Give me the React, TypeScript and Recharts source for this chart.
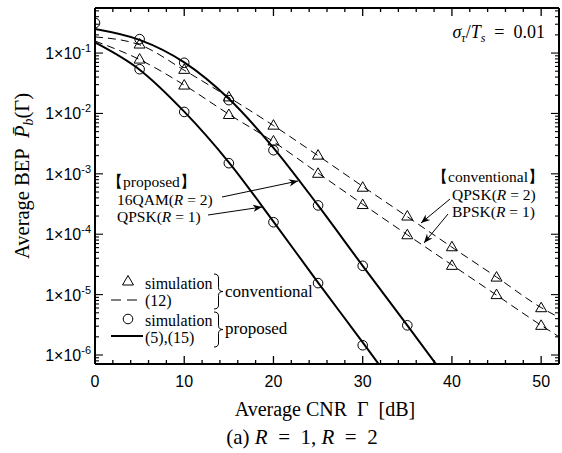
import React from 'react';
import { LineChart, Line, XAxis, YAxis } from 'recharts';

// ---------- data ----------
// conventional scheme, simulation (triangles)
const cnrConvSim = [5, 10, 15, 20, 25, 30, 35, 40, 45, 50];
const qpskR2Sim = [0.141, 0.0537, 0.0188, 0.0064, 0.00204, 6.0e-4, 2.0e-4, 6.2e-5, 1.95e-5, 6.07e-6];
const bpskR1Sim = [0.0795, 0.0295, 0.0096, 0.0035, 0.00102, 3.1e-4, 9.8e-5, 3.05e-5, 1.0e-5, 3.1e-6];
// conventional scheme, analysis (12) (dashed)
const cnrConvTheory = [0, 5, 10, 15, 20, 25, 30, 35, 40, 45, 50, 52];
const qpskR2Theory = [0.185, 0.137, 0.052, 0.0185, 0.0063, 0.002, 6.2e-4, 1.95e-4, 6.1e-5, 1.95e-5, 6.1e-6, 4.2e-6];
const bpskR1Theory = [0.158, 0.078, 0.0295, 0.0097, 0.0034, 0.00103, 3.15e-4, 9.8e-5, 3.1e-5, 9.8e-6, 3.1e-6, 2.0e-6];
// proposed scheme, simulation (circles)
const cnrQam16Sim = [0, 5, 10, 15, 20, 25, 30, 35];
const qam16R2Sim = [0.315, 0.17, 0.069, 0.0166, 0.00246, 3.0e-4, 3.0e-5, 3.1e-6];
const cnrQpskR1Sim = [5, 10, 15, 20, 25, 30];
const qpskR1Sim = [0.054, 0.0106, 0.0015, 1.58e-4, 1.55e-5, 1.45e-6];
// proposed scheme, analysis (5),(15) (solid)
const cnrQam16Theory = [0, 5, 10, 15, 20, 25, 30, 35, 38.5];
const qam16R2Theory = [0.25, 0.165, 0.07, 0.0175, 0.0027, 3.0e-4, 3.0e-5, 3.1e-6, 6.2e-7];
const cnrQpskR1Theory = [0, 5, 10, 15, 20, 25, 30, 32.5];
const qpskR1Theory = [0.15, 0.053, 0.0107, 0.00155, 1.62e-4, 1.58e-5, 1.62e-6, 5.1e-7];

// ticks
const xTicks = [0, 2, 4, 6, 8, 10, 12, 14, 16, 18, 20, 22, 24, 26, 28, 30, 32, 34, 36, 38, 40, 42, 44, 46, 48, 50, 52];
const xTickLabels = [0, 10, 20, 30, 40, 50];
const yDecades = [-7, -6, -5, -4, -3, -2, -1, 0];
const yMultipliers = [1, 2, 3, 4, 5, 6, 7, 8, 9];
const yLabelExponents = [-6, -5, -4, -3, -2, -1];

const X_DOMAIN: [number, number] = [0, 52];
const Y_MIN = Math.pow(10, -6.149);
const Y_MAX = Math.pow(10, -0.254);

const yTicks = yDecades
  .flatMap((e) => yMultipliers.map((m) => m * Math.pow(10, e)))
  .filter((v) => v >= Y_MIN && v <= Y_MAX);

const zip = (xs: number[], ys: number[]) => xs.map((x, i) => ({ x, y: ys[i] }));

const SERIF = "'Liberation Serif', 'Times New Roman', serif";
const SANS = "'Liberation Sans', Arial, sans-serif";
const NB = '\u00A0';

const isMajorY = (v: number) => {
  const e = Math.round(Math.log10(v));
  return Math.abs(v / Math.pow(10, e) - 1) < 1e-6 ? e : null;
};

const XTick = (side: 'bottom' | 'top') => (props: any) => {
  const { x, y, payload } = props;
  const v = payload.value;
  const major = xTickLabels.includes(v);
  const len = major ? 8 : 4;
  const dir = side === 'bottom' ? -1 : 1;
  return (
    <g>
      <line x1={x} y1={y} x2={x} y2={y + dir * len} stroke="#000" strokeWidth={1.3} />
      {side === 'bottom' && major ? (
        <text x={x} y={y + 23} textAnchor="middle" fontFamily={SANS} fontSize={16} fill="#000">
          {v}
        </text>
      ) : null}
    </g>
  );
};

const YTick = (side: 'left' | 'right') => (props: any) => {
  const { x, y, payload } = props;
  const v = payload.value;
  const e = isMajorY(v);
  const major = e !== null;
  const len = major ? 8 : 4;
  const dir = side === 'left' ? 1 : -1;
  return (
    <g>
      <line x1={x} y1={y} x2={x + dir * len} y2={y} stroke="#000" strokeWidth={1.1} />
      {side === 'left' && major && yLabelExponents.includes(e as number) ? (
        <text x={x - 4} y={y + 6} textAnchor="end" fontFamily={SANS} fontSize={16} fill="#000">
          <tspan>1×10</tspan>
          <tspan dy={-7} fontSize={11}>{`-${Math.abs(e as number)}`}</tspan>
        </text>
      ) : null}
    </g>
  );
};

const TriangleDot = (props: any) => {
  const { cx, cy, index } = props;
  if (cx == null || cy == null) return <g key={`t${index}`} />;
  return (
    <path
      key={`t${index}`}
      d={`M${cx},${cy - 5.5} L${cx - 5.5},${cy + 4} L${cx + 5.5},${cy + 4} Z`}
      fill="none"
      stroke="#000"
      strokeWidth={1}
    />
  );
};

const CircleDot = (props: any) => {
  const { cx, cy, index } = props;
  if (cx == null || cy == null) return <g key={`c${index}`} />;
  return <circle key={`c${index}`} cx={cx} cy={cy} r={4.8} fill="none" stroke="#000" strokeWidth={1} />;
};

const brace = (x0: number, y0: number, y1: number, w: number) => {
  const ym = (y0 + y1) / 2;
  const xm = x0 + w / 2;
  const r = 4;
  return `M${x0},${y0} Q${xm},${y0} ${xm},${y0 + r} L${xm},${ym - r} Q${xm},${ym} ${x0 + w},${ym} Q${xm},${ym} ${xm},${ym + r} L${xm},${y1 - r} Q${xm},${y1} ${x0},${y1}`;
};

const Overlay = () => (
  <svg
    width={562}
    height={453}
    style={{ position: 'absolute', left: 0, top: 0, pointerEvents: 'none' }}
    fontFamily={SERIF}
  >
    <defs>
      <marker id="arr" viewBox="0 0 10 10" refX="10" refY="5" markerWidth="9" markerHeight="9" markerUnits="userSpaceOnUse" orient="auto">
        <path d="M0,1 L10,5 L0,9 L3,5 Z" fill="#000" />
      </marker>
    </defs>

    {/* parameter */}
    <text x={545} y={38} textAnchor="end" fontSize={18} fill="#000">
      <tspan fontStyle="italic">σ</tspan>
      <tspan fontStyle="italic" fontSize={12} dy={4}>τ</tspan>
      <tspan dy={-4}>/</tspan>
      <tspan fontStyle="italic">T</tspan>
      <tspan fontStyle="italic" fontSize={12} dy={4}>s</tspan>
      <tspan dy={-4}>{`${NB}${NB}=${NB}${NB}0.01`}</tspan>
    </text>

    {/* proposed labels */}
    <text x={107} y={187} fontSize={15.5} fill="#000">【proposed】</text>
    <text x={117} y={204.5} fontSize={15.5} fill="#000">
      16QAM(<tspan fontStyle="italic">R</tspan> = 2)
    </text>
    <text x={117} y={222} fontSize={15.5} fill="#000">
      QPSK(<tspan fontStyle="italic">R</tspan> = 1)
    </text>
    <line x1={222} y1={197} x2={298} y2={181} stroke="#000" strokeWidth={1} markerEnd="url(#arr)" />
    <line x1={208} y1={215} x2={262} y2={207} stroke="#000" strokeWidth={1} markerEnd="url(#arr)" />

    {/* conventional labels */}
    <text x={432} y={182} fontSize={15.5} fill="#000">【conventional】</text>
    <text x={452} y={199.5} fontSize={15.5} fill="#000">
      QPSK(<tspan fontStyle="italic">R</tspan> = 2)
    </text>
    <text x={452} y={217} fontSize={15.5} fill="#000">
      BPSK(<tspan fontStyle="italic">R</tspan> = 1)
    </text>
    <line x1={450} y1={199} x2={421} y2={223} stroke="#000" strokeWidth={1} markerEnd="url(#arr)" />
    <line x1={448} y1={214} x2={424} y2={243} stroke="#000" strokeWidth={1} markerEnd="url(#arr)" />

    {/* legend */}
    <path d="M128,275.5 L122.5,285 L133.5,285 Z" fill="none" stroke="#000" strokeWidth={1} />
    <text x={145} y={289} fontSize={16} fill="#000">simulation</text>
    <line x1={111} y1={300} x2={139} y2={300} stroke="#000" strokeWidth={1} strokeDasharray="10 6" />
    <text x={145} y={306} fontSize={16} fill="#000">(12)</text>
    <circle cx={128} cy={319} r={4.8} fill="none" stroke="#000" strokeWidth={1} />
    <text x={145} y={326} fontSize={16} fill="#000">simulation</text>
    <line x1={111} y1={336} x2={143} y2={336} stroke="#000" strokeWidth={2} />
    <text x={145} y={343} fontSize={16} fill="#000">(5),(15)</text>
    <path d={brace(214, 274, 309, 9)} fill="none" stroke="#000" strokeWidth={1} />
    <path d={brace(214, 312, 347, 9)} fill="none" stroke="#000" strokeWidth={1} />
    <text x={225} y={297} fontSize={17} fill="#000">conventional</text>
    <text x={225} y={334} fontSize={17} fill="#000">proposed</text>

    {/* axis titles */}
    <text x={325} y={416} textAnchor="middle" fontSize={20} fill="#000">
      {`Average CNR${NB}${NB}Γ${NB}${NB}[dB]`}
    </text>
    <text x={29} y={176} textAnchor="middle" fontSize={20.5} fill="#000" transform="rotate(-90 29 176)">
      {`Average BEP${NB}${NB}`}
      <tspan fontStyle="italic">P̄</tspan>
      <tspan fontStyle="italic" fontSize={14} dy={4}>b</tspan>
      <tspan dy={-4}>(Γ)</tspan>
    </text>
    <text x={302} y={444} textAnchor="middle" fontSize={21} fill="#000">
      {`(a)${NB}`}
      <tspan fontStyle="italic">R</tspan>
      {`${NB}${NB}=${NB}${NB}1,${NB}`}
      <tspan fontStyle="italic">R</tspan>
      {`${NB}${NB}=${NB}${NB}2`}
    </text>
  </svg>
);

export default function App() {
  const frame = { stroke: '#000', strokeWidth: 2 };
  return (
    <div style={{ position: 'absolute', left: 0, top: 0, width: 562, height: 453, background: '#fff' }}>
      <LineChart width={562} height={453} margin={{ top: 7, right: 2, bottom: 88, left: 94 }}>
        <XAxis
          xAxisId="b"
          type="number"
          dataKey="x"
          domain={X_DOMAIN}
          allowDataOverflow
          ticks={xTicks}
          interval={0}
          height={1}
          tickSize={0}
          tickMargin={0}
          tickLine={false}
          axisLine={frame}
          tick={XTick('bottom')}
        />
        <XAxis
          xAxisId="t"
          orientation="top"
          type="number"
          dataKey="x"
          domain={X_DOMAIN}
          allowDataOverflow
          ticks={xTicks}
          interval={0}
          height={1}
          tickSize={0}
          tickMargin={0}
          tickLine={false}
          axisLine={frame}
          tick={XTick('top')}
        />
        <YAxis
          yAxisId="l"
          type="number"
          scale="log"
          domain={[Y_MIN, Y_MAX]}
          allowDataOverflow
          ticks={yTicks}
          interval={0}
          width={1}
          tickSize={0}
          tickMargin={0}
          tickLine={false}
          axisLine={frame}
          tick={YTick('left')}
        />
        <YAxis
          yAxisId="r"
          orientation="right"
          type="number"
          scale="log"
          domain={[Y_MIN, Y_MAX]}
          allowDataOverflow
          ticks={yTicks}
          interval={0}
          width={1}
          tickSize={0}
          tickMargin={0}
          tickLine={false}
          axisLine={frame}
          tick={YTick('right')}
        />

        {/* helper so the top/right axes own data */}
        <Line xAxisId="t" yAxisId="r" data={zip(cnrConvTheory, qpskR2Theory)} dataKey="y" stroke="none" dot={false} isAnimationActive={false} legendType="none" />

        <Line xAxisId="b" yAxisId="l" data={zip(cnrConvTheory, qpskR2Theory)} dataKey="y" type="monotone" stroke="#000" strokeWidth={1} strokeDasharray="8 5" dot={false} isAnimationActive={false} />
        <Line xAxisId="b" yAxisId="l" data={zip(cnrConvTheory, bpskR1Theory)} dataKey="y" type="monotone" stroke="#000" strokeWidth={1} strokeDasharray="8 5" dot={false} isAnimationActive={false} />
        <Line xAxisId="b" yAxisId="l" data={zip(cnrQam16Theory, qam16R2Theory)} dataKey="y" type="monotone" stroke="#000" strokeWidth={2} dot={false} isAnimationActive={false} />
        <Line xAxisId="b" yAxisId="l" data={zip(cnrQpskR1Theory, qpskR1Theory)} dataKey="y" type="monotone" stroke="#000" strokeWidth={2} dot={false} isAnimationActive={false} />

        <Line xAxisId="b" yAxisId="l" data={zip(cnrConvSim, qpskR2Sim)} dataKey="y" stroke="none" dot={TriangleDot} isAnimationActive={false} />
        <Line xAxisId="b" yAxisId="l" data={zip(cnrConvSim, bpskR1Sim)} dataKey="y" stroke="none" dot={TriangleDot} isAnimationActive={false} />
        <Line xAxisId="b" yAxisId="l" data={zip(cnrQam16Sim, qam16R2Sim)} dataKey="y" stroke="none" dot={CircleDot} isAnimationActive={false} />
        <Line xAxisId="b" yAxisId="l" data={zip(cnrQpskR1Sim, qpskR1Sim)} dataKey="y" stroke="none" dot={CircleDot} isAnimationActive={false} />
      </LineChart>
      <Overlay />
    </div>
  );
}
